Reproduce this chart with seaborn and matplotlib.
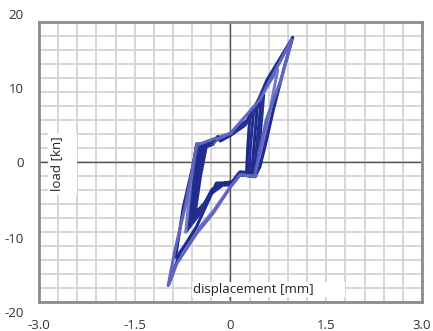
import numpy as np
import pandas as pd
import matplotlib
matplotlib.use("Agg")
import matplotlib.pyplot as plt
import matplotlib.transforms as mtransforms
from matplotlib.patches import Rectangle
import seaborn as sns

# ==================== DATA ====================
# displacement [mm] / load [kn], each cycle: loading branch then unloading branch
c1_x = [-0.55, -0.47, -0.38, -0.28, -0.20, -0.16, 0.00, 0.22, 0.30, 0.27, 0.25, 0.13, 0.03, -0.10, -0.27, -0.40, -0.58]
c1_y = [-7.0, -2.0, 2.2, 2.5, 3.4, 3.0, 3.8, 5.2, 6.2, 2.0, -1.8, -1.6, -2.8, -3.0, -3.8, -5.8, -7.6]

c2_x = [-0.58, -0.51, -0.42, -0.28, -0.20, -0.16, 0.00, 0.24, 0.36, 0.31, 0.29, 0.14, 0.03, -0.10, -0.28, -0.42, -0.61]
c2_y = [-7.6, -2.5, 2.3, 2.6, 3.5, 3.1, 3.9, 5.5, 7.0, 2.0, -1.9, -1.7, -2.9, -3.0, -3.9, -6.2, -8.1]

c3_x = [-0.61, -0.55, -0.46, -0.28, -0.20, -0.15, 0.00, 0.25, 0.42, 0.36, 0.33, 0.15, 0.03, -0.10, -0.29, -0.43, -0.64]
c3_y = [-8.1, -3.0, 2.4, 2.7, 3.6, 3.2, 4.0, 5.7, 7.9, 1.5, -2.0, -1.8, -3.0, -3.1, -4.0, -6.5, -8.6]

c4_x = [-0.64, -0.58, -0.50, -0.27, -0.20, -0.15, 0.00, 0.26, 0.48, 0.40, 0.37, 0.15, 0.02, -0.12, -0.30, -0.45, -0.67]
c4_y = [-8.6, -3.0, 2.5, 2.7, 3.6, 3.2, 4.1, 5.8, 8.7, 1.2, -2.1, -1.8, -3.2, -3.2, -4.1, -6.8, -9.2]

c5_x = [-0.67, -0.61, -0.53, -0.27, -0.19, -0.15, 0.00, 0.26, 0.44, 0.52, 0.44, 0.39, 0.15, 0.02, -0.12, -0.30, -0.50, -0.70]
c5_y = [-9.2, -3.5, 2.6, 2.7, 3.6, 3.2, 4.1, 5.9, 8.9, 9.6, 1.0, -2.1, -1.8, -3.3, -3.3, -4.5, -7.6, -10.0]

c6_x = [-0.70, -0.62, -0.53, -0.27, -0.19, 0.00, 0.26, 0.44, 0.74, 0.62, 0.46, 0.40, 0.15, 0.02, -0.27, -0.53, -0.86]
c6_y = [-10.0, -2.6, 2.6, 2.7, 3.6, 4.1, 5.9, 8.9, 13.2, 7.5, 0.3, -2.0, -1.6, -3.3, -7.0, -9.8, -13.6]

c7_x = [-0.86, -0.74, -0.58, -0.53, -0.30, -0.20, -0.15, 0.00, 0.26, 0.44, 0.57, 0.975, 0.83, 0.67, 0.54, 0.46, 0.41, 0.15, 0.02, -0.22, -0.27, -0.53, -0.79, -0.975]
c7_y = [-13.6, -6.5, -0.2, 2.4, 2.7, 3.6, 3.2, 4.1, 5.9, 8.9, 11.7, 17.8, 13.1, 7.4, 2.2, -0.7, -1.6, -1.4, -3.0, -3.0, -4.0, -9.2, -13.0, -17.6]

c8_x = [-0.975, -0.87, -0.71, -0.58, -0.53, -0.24, -0.19, 0.00, 0.46, 0.96, 0.80, 0.56, 0.44, 0.38, 0.15, 0.02, -0.27, -0.53, -0.84, -0.96]
c8_y = [-17.6, -12.6, -6.4, -0.2, 2.4, 3.4, 3.3, 4.1, 8.9, 17.5, 12.0, 6.0, 0.8, -2.1, -1.8, -3.3, -7.3, -10.2, -14.5, -17.4]

cycles = {"c1": (c1_x, c1_y), "c2": (c2_x, c2_y), "c3": (c3_x, c3_y), "c4": (c4_x, c4_y),
          "c5": (c5_x, c5_y), "c6": (c6_x, c6_y), "c7": (c7_x, c7_y), "c8": (c8_x, c8_y)}
palette = {"c1": "#1f2b8f", "c2": "#222e92", "c3": "#1e2a8c", "c4": "#212d90",
           "c5": "#243194", "c6": "#7479c8", "c7": "#1f2b8f", "c8": "#5f66bf"}

x_tick_vals = [-3.0, -1.5, 0, 1.5, 3.0]
x_tick_labels = ["-3.0", "-1.5", "0", "1.5", "3.0"]
y_tick_vals = [-20, -10, 0, 10, 20]
y_tick_labels = ["-20", "-10", "0", "10", "20"]

rows = []
for name, (xs, ys) in cycles.items():
    for i, (xv, yv) in enumerate(zip(xs, ys)):
        rows.append({"cycle": name, "step": i, "displacement": xv, "load": yv})
df = pd.DataFrame(rows)

# ==================== PLOT ====================
sns.set_style("white")
plt.rcParams["font.family"] = ["Open Sans", "DejaVu Sans"]

fig = plt.figure(figsize=(4.33, 3.31), dpi=100)
ax = fig.add_axes([0.090, 0.0876, 0.8846, 0.8459])

sns.lineplot(data=df, x="displacement", y="load", hue="cycle", units="cycle",
             estimator=None, sort=False, palette=palette, linewidth=2.2,
             legend=False, ax=ax, zorder=4)

ax.set_xlim(-3, 3)
ax.set_ylim(-20, 20)
ax.set_xticks(x_tick_vals)
ax.set_xticklabels(x_tick_labels)
ax.set_yticks(y_tick_vals)
ax.set_yticklabels(y_tick_labels)
ax.set_xticks(np.arange(-3, 3.001, 0.3), minor=True)
ax.set_yticks(np.arange(-20, 20.001, 2), minor=True)
ax.tick_params(which="both", length=0)
ax.tick_params(axis="x", pad=12, labelsize=9.5, colors="#333333")
ax.tick_params(axis="y", pad=11, labelsize=9.5, colors="#333333")
ax.grid(which="both", color="#d3d3d3", linewidth=1.3, zorder=0)
ax.set_axisbelow(True)
ax.set_xlabel("")
ax.set_ylabel("")

for sp in ax.spines.values():
    sp.set_color("#8c8c8c")
    sp.set_linewidth(2)

# zero axes
ax.axhline(0, color="#555555", linewidth=1.0, zorder=2)
ax.axvline(0, color="#555555", linewidth=1.0, zorder=2)

# y labels in the scan sit a little wider than the box
offsets = {"20": 8, "10": 4, "0": 0, "-10": -6, "-20": -10}
for lab in ax.get_yticklabels():
    dy = offsets.get(lab.get_text(), 0)
    lab.set_transform(lab.get_transform() + mtransforms.ScaledTranslation(0, dy / 100, fig.dpi_scale_trans))

# white label boxes
ax.add_patch(Rectangle((0.0235, 0.382), 0.0757, 0.221, transform=ax.transAxes,
                       facecolor="white", edgecolor="none", zorder=5))
ax.add_patch(Rectangle((0.3995, 0.0179), 0.3995, 0.0536, transform=ax.transAxes,
                       facecolor="white", edgecolor="none", zorder=5))
ax.text(0.045, 0.493, "load [kn]", rotation=90, transform=ax.transAxes,
        ha="center", va="center", fontsize=9.5, color="#222222", zorder=6)
ax.text(0.402, 0.045, "displacement [mm]", transform=ax.transAxes,
        ha="left", va="center", fontsize=9.5, color="#222222", zorder=6)

plt.savefig("out.png", dpi=100)
plt.close()
